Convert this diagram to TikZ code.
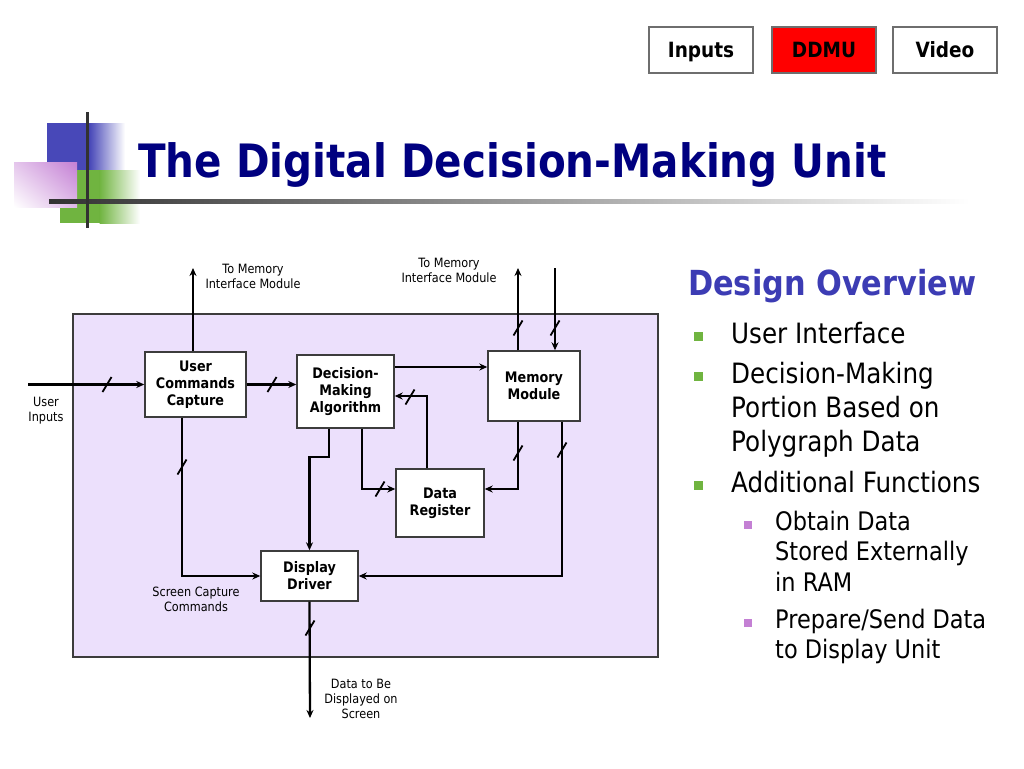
\documentclass[tikz,border=0pt]{standalone}
\usepackage{fontspec}
\setmainfont{DejaVu Sans}[FakeStretch=0.88]
\usetikzlibrary{arrows.meta,calc,shadings}
\definecolor{navytitle}{RGB}{0,0,128}
\definecolor{ovblue}{RGB}{60,60,180}
\definecolor{lavender}{RGB}{236,224,252}
\definecolor{boxgray}{RGB}{60,60,60}
\definecolor{tabgray}{RGB}{110,110,110}
\definecolor{logoblue}{RGB}{72,72,184}
\definecolor{logogreen}{RGB}{112,180,64}
\definecolor{logopink}{RGB}{196,128,212}
\definecolor{darkbar}{RGB}{50,50,50}

\begin{document}
\begin{tikzpicture}[x=1pt,y=-1pt,
  blk/.style={draw=boxgray, line width=1.4pt, fill=white, align=center, inner sep=0pt, font=\fontsize{14.5}{17}\selectfont\bfseries},
  wire/.style={line width=2.3pt},
  arr/.style={wire, -{Stealth[length=8pt,width=7pt]}},
  lbl/.style={align=center, inner sep=0pt, font=\fontsize{12.8}{15}\selectfont},
  tab/.style={draw=tabgray, line width=1.5pt, minimum width=104pt, minimum height=46pt, inner sep=0pt, text height=15pt, text depth=0pt, font=\fontsize{21}{24}\selectfont\bfseries},
  itm/.style={anchor=base west, inner sep=0pt, font=\fontsize{28}{34}\selectfont},
  subitm/.style={anchor=base west, inner sep=0pt, font=\fontsize{25.5}{30}\selectfont}]
\useasboundingbox[fill=white] (0,0) rectangle (1024,768);

% logo
\fill[logoblue] (47,123) rectangle (90,170);
\shade[left color=logoblue, right color=white] (89.5,123) rectangle (125,170);
\fill[logogreen] (60,170) rectangle (100,223);
\shade[left color=logogreen, right color=white] (99.5,170) rectangle (140,223);
\shade[upper right=logopink, upper left=logopink!45!white, lower right=logopink!55!white, lower left=white] (14,162) rectangle (77,207);
\shade[left color=darkbar, middle color=darkbar!60!white, right color=white] (49,199) rectangle (970,203);
\fill[darkbar] (85.5,112) rectangle (88.5,228);

% tabs
\node[tab] (inputs) at (701,50) {Inputs};
\node[tab, fill=red] (ddmu) at (824,50) {DDMU};
\node[tab] (video) at (945,50) {Video};

\node[anchor=base west, inner sep=0pt, text=navytitle, font=\fontsize{46}{50}\selectfont\bfseries] (title) at (138,177) {The Digital Decision-Making Unit};

% design overview
\node[anchor=base west, inner sep=0pt, text=ovblue, font=\fontsize{34.5}{40}\selectfont\bfseries] (overview) at (688,295) {Design Overview};
\foreach \y/\t in {343/User Interface, 383/Decision-Making, 417/Portion Based on, 451/Polygraph Data, 492/Additional Functions}
  \node[itm] (item\y) at (731,\y) {\t};
\foreach \y/\t in {530/Obtain Data, 560/Stored Externally, 591/in RAM, 628/Prepare\slash Send Data, 658/to Display Unit}
  \node[subitm] (sub\y) at (775,\y) {\t};
\foreach \y in {343,383,492}
  \fill[logogreen] (694,\y-11) rectangle ++(9,9);
\foreach \y in {530,628}
  \fill[logopink] (744,\y-9) rectangle ++(8,8);

% diagram
\draw[fill=lavender, draw=boxgray, line width=1.2pt] (73,314) rectangle (658,657);

\node[blk, minimum width=101pt, minimum height=65pt] (ucc) at (195.5,384.5) {User\\Commands\\Capture};
\node[blk, minimum width=97pt, minimum height=73pt] (dma) at (345.5,391.5) {Decision-\\Making\\Algorithm};
\node[blk, minimum width=92pt, minimum height=70pt] (mem) at (534,386) {Memory\\Module};
\node[blk, minimum width=88pt, minimum height=68pt] (dreg) at (440,503) {Data\\Register};
\node[blk, minimum width=97pt, minimum height=50pt] (ddrv) at (309.5,576) {Display\\Driver};

\coordinate (uin) at (28,384.5);
\coordinate (mout) at (193,268);
\coordinate (mout2) at (518,268);
\coordinate (min) at (555,268);
\coordinate (dout) at (310,718);

\draw[arr] (uin) -- (ucc.west);
\draw[arr] (mout |- ucc.north) -- (mout);
\draw[arr] (ucc.east) -- (ucc.east -| dma.west);
\draw[arr] ([xshift=-13.5pt]ucc.south) |- (ddrv.west);
\draw[arr] ([xshift=-16.5pt]dma.south) -- ++(0,28) -| (ddrv.north);
\draw[arr] ([xshift=16.5pt]dma.south) |- ([yshift=14pt]dreg.west);
\draw[arr] ([xshift=-13pt]dreg.north) |- ([yshift=-4.5pt]dma.east);
\draw[arr] ([yshift=24.5pt]dma.east) -- ([yshift=24.5pt]dma.east -| mem.west);
\draw[arr] ([xshift=-16pt]mem.south) |- ([yshift=14pt]dreg.east);
\draw[arr] ([xshift=28pt]mem.south) |- (ddrv.east);
\draw[arr] (mout2 |- mem.north) -- (mout2);
\draw[arr] (min) -- (min |- mem.north);
\draw[arr] (ddrv.south) -- (dout);

% bus marks
\foreach \p in {(107,384.5),(272,384.5),(182,467),(380,489),(410,397),(518,453),(562,450),(518,328),(555,328),(310,628)}
  \draw[line width=1.8pt] \p ++(-4.5,7.5) -- ++(9,-15);

\node[lbl] (lmem1) at (253,276.5) {To Memory\\Interface Module};
\node[lbl] (lmem2) at (449,270.5) {To Memory\\Interface Module};
\node[lbl] (luser) at (46,410.5) {User\\Inputs};
\node[lbl] (lscr) at (196,599.5) {Screen Capture\\Commands};
\node[lbl] (ldata) at (361,698.5) {Data to Be\\Displayed on\\Screen};
\end{tikzpicture}
\end{document}
